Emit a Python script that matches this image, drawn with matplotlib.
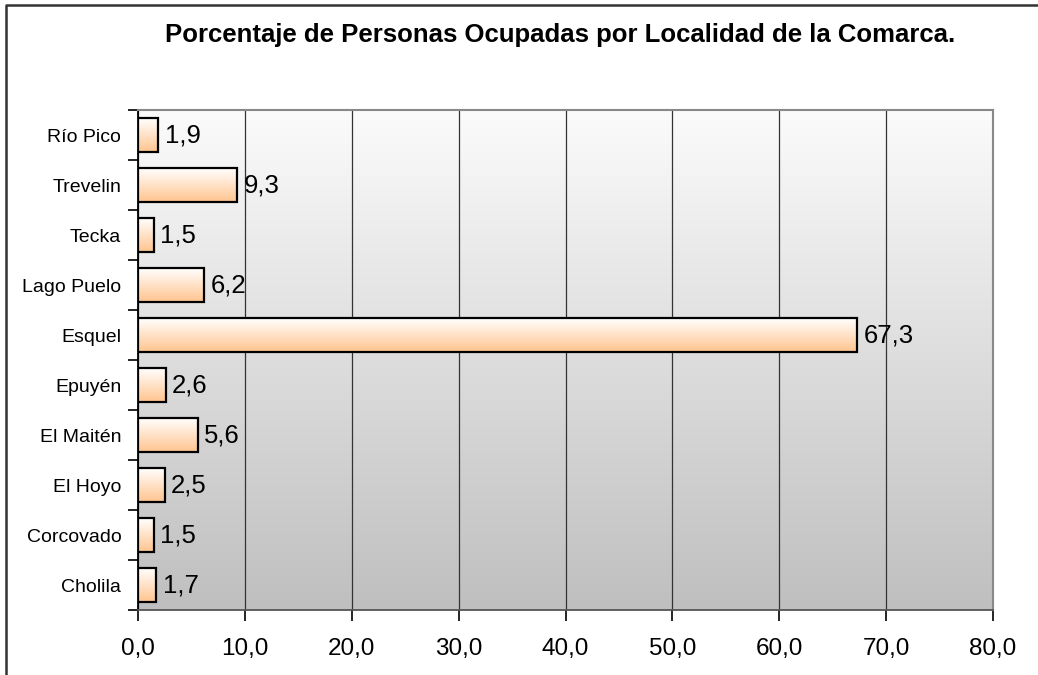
import numpy as np
import matplotlib
matplotlib.use("Agg")
import matplotlib.pyplot as plt
from matplotlib.colors import LinearSegmentedColormap
from matplotlib.lines import Line2D

plt.rcParams["font.family"] = ["Liberation Sans", "DejaVu Sans"]

localidades = ["Cholila", "Corcovado", "El Hoyo", "El Maitén", "Epuyén",
               "Esquel", "Lago Puelo", "Tecka", "Trevelin", "Río Pico"]
porcentajes = [1.7, 1.5, 2.5, 5.6, 2.6, 67.3, 6.2, 1.5, 9.3, 1.9]
x_ticks = [0, 10, 20, 30, 40, 50, 60, 70, 80]

fig = plt.figure(figsize=(10.38, 6.75), dpi=100)
# chart frame (only top and left edges visible in the crop)
fig.lines.append(Line2D([6 / 1038, 6 / 1038, 1.01], [-0.01, 1 - 5 / 675, 1 - 5 / 675],
                        transform=fig.transFigure, color="#333333", linewidth=1.8))

ax = fig.add_axes([138 / 1038, 65 / 675, 855 / 1038, 500 / 675])
ax.set_xlim(0, 80)
ax.set_ylim(-0.5, len(localidades) - 0.5)

# plot area gradient: light on top, grey at bottom
bg = LinearSegmentedColormap.from_list("bg", ["#bfbfbf", "#fbfbfb"])
grad = np.linspace(0, 1, 256).reshape(-1, 1)
ax.imshow(grad, cmap=bg, aspect="auto", origin="lower",
          extent=[0, 80, -0.5, len(localidades) - 0.5], zorder=0)

ax.set_xticks(x_ticks)
ax.grid(axis="x", color="#333333", linewidth=0.9, zorder=1)

bar_cmap = LinearSegmentedColormap.from_list("bar", ["#ffc48e", "#ffffff"])
bars = ax.barh(range(len(localidades)), porcentajes, height=0.68,
               facecolor="none", edgecolor="black", linewidth=1.6, zorder=3)
for b, v in zip(bars, porcentajes):
    x0, y0 = b.get_x(), b.get_y()
    w, h = b.get_width(), b.get_height()
    im = ax.imshow(grad, cmap=bar_cmap, aspect="auto", origin="lower",
                   extent=[x0, x0 + w, y0, y0 + h], zorder=2)
    im.set_clip_path(b)
    ax.text(v + 0.6, b.get_y() + h / 2, f"{v:.1f}".replace(".", ","),
            va="center", ha="left", fontsize=18.5, zorder=4)

ax.set_xlim(0, 80)
ax.set_ylim(-0.5, len(localidades) - 0.5)

ax.set_yticks(range(len(localidades)))
ax.set_yticklabels(localidades, fontsize=14)
ax.set_yticks(np.arange(-0.5, len(localidades), 1), minor=True)
ax.tick_params(axis="y", which="major", length=0, pad=12)
ax.tick_params(axis="y", which="minor", length=7, width=1.2, color="black")
ax.set_xticklabels([f"{t:.1f}".replace(".", ",") for t in x_ticks], fontsize=17.5)
ax.tick_params(axis="x", length=8, width=1.2, pad=12, color="black")

for side in ["top", "right"]:
    ax.spines[side].set_color("#888888")
    ax.spines[side].set_linewidth(1.5)
ax.spines["left"].set_linewidth(1.3)
ax.spines["bottom"].set_linewidth(1.3)
ax.spines["bottom"].set_color("#555555")

fig.text(0.540, 0.948, "Porcentaje de Personas Ocupadas por Localidad de la Comarca.",
         ha="center", va="center", fontsize=18.5, fontweight="bold")

fig.savefig("out.png", dpi=100)
